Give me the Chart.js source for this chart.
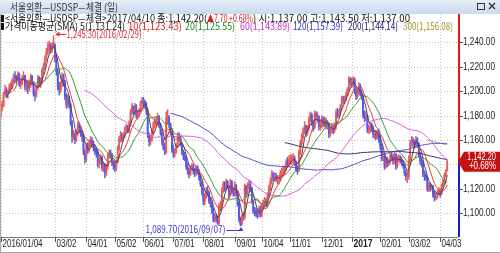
<!DOCTYPE html>
<html>
<head>
<meta charset="utf-8">
<script src="https://cdn.jsdelivr.net/npm/chart.js@4"></script>
<style>
  html, body { margin: 0; padding: 0; background: #fff; }
  #wrap { width: 500px; height: 253px; }
</style>
</head>
<body>
<div id="wrap"><canvas id="c" width="500" height="253"></canvas></div>
<script>
// daily USD/KRW closes, 2016/01/04 .. 2017/04/10
const closes = [
  1188,1188,1198,1201,1198,1200,1203,1203,1209,1212,1211,1210,1214,1206,1207,1211,1213,1204,1205,1203,
  1206,1212,1207,1198,1197,1203,1211,1207,1208,1217,1220,1227,1232,1236,1238,1234,1237,1238,
  1227,1216,1204,1201,1206,1213,1208,1196,1189,1194,1189,1174,1163,1165,1160,1166,1172,1170,1166,1163,1151,1144,
  1155,1152,1158,1160,1157,1154,1151,1150,1141,1143,1146,1137,1140,1133,1138,1147,1150,1148,1141,1140,
  1137,1142,1153,1161,1164,1161,1164,1169,1170,1168,1174,1183,1187,1183,1188,1180,1181,1184,1190,1192,
  1191,1189,1184,1165,1159,1161,1167,1173,1175,1176,1179,1172,1166,1159,1154,1150,1178,1179,1173,1166,1152,
  1149,1150,1155,1163,1162,1157,1150,1147,1146,1138,1135,1132,1137,1138,1135,1133,1137,1134,1129,1124,1118,
  1110,1114,1119,1117,1110,1108,1102,1095,1097,1096,1092,1106,1106,1119,1124,1120,1126,1122,1115,1126,1118,1117,
  1123,1116,1108,1095,1091,1096,1097,1122,1116,1123,1124,1121,1110,1102,1101,1100,1099,1104,1099,
  1106,1109,1110,1108,1115,1121,1126,1132,1129,1130,1128,1128,1128,1133,1134,1135,1136,1142,1141,1144,
  1144,1145,1145,1142,1136,1135,1150,1157,1163,1168,1171,1166,1170,1177,1181,1174,1170,1181,1179,1179,1171,1173,
  1177,1173,1176,1172,1173,1165,1169,1170,1168,1171,1182,1181,1183,1187,1194,1193,1194,1197,1201,1210,1208,
  1208,1210,1200,1196,1199,1204,1198,1196,1180,1179,1180,1168,1169,1171,1170,1165,1165,1163,1166,1162,
  1155,1145,1146,1138,1144,1140,1142,1147,1146,1143,1148,1139,1145,1145,1144,1141,1139,1133,1130,1130,
  1145,1158,1160,1158,1156,1161,1157,1148,1143,1141,1132,1131,1129,1120,1123,1121,1122,1115,1113,1114,1117,1118.4,
  1116,1122.5,1126,1131,1134.5,1142.2
];
const highs = [
  1190,1192,1199,1205,1203,1201,1206,1207,1210,1214,1216,1213,1216,1215,1210,1213,1216,1213,1209,1208,
  1209,1214,1213,1208,1201,1205,1213,1212,1211,1219,1223,1229,1235,1240,1241,1239,1240,1245.3,
  1239,1229,1218,1207,1208,1215,1214,1209,1198,1197,1196,1190,1176,1168,1166,1168,1175,1174,1171,1168,1164,1152,
  1157,1158,1160,1163,1162,1159,1156,1153,1151,1146,1148,1147,1142,1141,1140,1149,1152,1152,1149,1143,
  1143,1144,1155,1163,1167,1166,1166,1171,1173,1172,1176,1185,1190,1188,1190,1189,1184,1186,1192,1195,
  1195,1193,1191,1186,1166,1164,1169,1175,1178,1179,1182,1180,1174,1168,1161,1157,1183,1185,1180,1174,1167,
  1156,1153,1157,1166,1166,1163,1158,1152,1150,1147,1141,1137,1139,1141,1140,1137,1139,1139,1136,1131,1126,
  1120,1116,1121,1122,1118,1113,1110,1104,1100,1099,1098,1108,1110,1121,1126,1126,1128,1127,1123,1128,1127,1121,
  1126,1124,1118,1109,1097,1099,1101,1124,1123,1125,1127,1126,1121,1111,1105,1104,1103,1106,1106,
  1108,1111,1113,1112,1117,1123,1129,1135,1134,1133,1133,1131,1131,1135,1137,1138,1139,1144,1146,1147,
  1148,1148,1149,1147,1143,1139,1152,1160,1165,1170,1175,1172,1172,1179,1183,1182,1176,1184,1183,1183,1180,1176,
  1180,1179,1179,1178,1176,1174,1171,1173,1172,1174,1185,1186,1185,1189,1196,1196,1196,1199,1203,1212,1211,
  1211,1212,1211,1203,1202,1207,1206,1201,1197,1184,1183,1180,1172,1174,1174,1172,1168,1168,1168,1169,
  1164,1157,1150,1148,1146,1146,1144,1149,1150,1148,1150,1149,1147,1148,1147,1146,1143,1140,1135,1134,
  1147,1160,1163,1162,1160,1163,1162,1158,1150,1146,1143,1135,1133,1130,1125,1125,1124,1123,1118,1117,1119,1121,
  1120,1124,1128,1133,1136,1143.5
];
const lows = [
  1178,1184,1187,1196,1195,1194,1198,1199,1202,1207,1208,1206,1208,1204,1202,1205,1209,1201,1200,1198,
  1200,1203,1205,1196,1192,1195,1201,1204,1203,1206,1214,1218,1225,1230,1233,1231,1232,1235,
  1224,1213,1201,1197,1199,1204,1204,1193,1186,1187,1186,1172,1158,1160,1157,1159,1164,1166,1163,1159,1148,1141,
  1142,1149,1150,1155,1154,1151,1148,1146,1138,1137,1140,1135,1134,1129,1131,1136,1145,1145,1139,1136,
  1134,1135,1141,1151,1158,1159,1159,1162,1166,1166,1166,1172,1181,1181,1182,1178,1177,1179,1183,1188,
  1187,1186,1181,1162,1155,1156,1159,1164,1170,1171,1173,1170,1164,1156,1152,1148,1149,1173,1170,1164,1150,
  1146,1146,1149,1154,1159,1155,1148,1144,1143,1136,1132,1129,1131,1135,1132,1130,1131,1132,1127,1122,1115,
  1107,1107,1112,1114,1108,1105,1100,1093,1093,1093,1091,1090,1102,1104,1117,1118,1119,1120,1112,1114,1116,1114,
  1114,1114,1106,1093,1089.7,1090,1094,1095,1113,1115,1120,1118,1108,1100,1098,1097,1096,1097,1097,
  1097,1103,1106,1105,1106,1113,1119,1124,1127,1127,1126,1124,1124,1126,1130,1131,1132,1135,1138,1139,
  1140,1140,1141,1139,1134,1132,1134,1148,1155,1161,1165,1163,1164,1168,1175,1172,1167,1169,1176,1175,1168,1168,
  1170,1171,1171,1169,1169,1162,1163,1166,1165,1166,1169,1178,1179,1180,1185,1190,1190,1192,1196,1200,1205,
  1203,1204,1198,1193,1194,1197,1196,1193,1178,1175,1176,1166,1165,1166,1167,1162,1161,1160,1161,1158,
  1152,1143,1143,1136,1137,1138,1139,1141,1143,1140,1141,1136,1137,1142,1141,1139,1137,1131,1127,1125,
  1128,1143,1155,1155,1153,1154,1154,1146,1140,1138,1130,1127,1127,1118,1118,1118,1119,1113,1110,1111,1112,1115,
  1113,1115,1120,1124,1130,1137
];
const firstOpen = 1180;

const maPeriods = [5, 10, 20, 60, 120, 200, 300];
const maColors = ['#4a4a4a', '#e43c3c', '#2f9e2f', '#e452e4', '#4848cc', '#2a2a6e', '#b4a448'];

const tickIdx = [0, 38, 60, 80, 100, 121, 142, 164, 183, 203, 225, 246, 266, 286, 308];
const tickText = ['2016/01/04', '03/02', '04/01', '05/02', '06/01', '07/01', '08/01', '09/01',
  '10/04', '11/01', '12/01', '2017', '02/01', '03/02', '04/03'];
const yTicks = [1100, 1120, 1140, 1160, 1180, 1200, 1220, 1240];
const slotCount = 321;

// candles
const opens = closes.map((c, i) => (i === 0 ? firstOpen : closes[i - 1]));
const upColor = '#ea5a5a', downColor = '#5858e6';
const candleColors = closes.map((c, i) => (c >= opens[i] ? upColor : downColor));

function sma(n) {
  return closes.map((c, i) => {
    if (i < n - 1) return null;
    let s = 0;
    for (let k = i - n + 1; k <= i; k++) s += closes[k];
    return s / n;
  });
}

function txt(ctx, s, x, y, color, opt) {
  opt = opt || {};
  ctx.save();
  ctx.font = opt.font || '10px "Liberation Sans"';
  ctx.fillStyle = color;
  ctx.textBaseline = 'middle';
  const nat = ctx.measureText(s).width;
  const sx = opt.width ? opt.width / nat : (opt.sx || 0.82);
  const w = nat * sx;
  const x0 = opt.align === 'right' ? x - w : x;
  ctx.translate(x0, y);
  ctx.scale(sx, 1);
  ctx.fillText(s, 0, 0);
  ctx.restore();
  return w;
}

const gridPlugin = {
  id: 'grid',
  beforeDatasetsDraw(chart) {
    const { ctx, chartArea: ca, scales: { x, y } } = chart;
    ctx.save();
    ctx.strokeStyle = '#c4c4c4';
    ctx.lineWidth = 1;
    ctx.setLineDash([1, 2]);
    yTicks.forEach(v => {
      const py = Math.round(y.getPixelForValue(v)) + 0.5;
      ctx.beginPath(); ctx.moveTo(ca.left, py); ctx.lineTo(ca.right, py); ctx.stroke();
    });
    tickIdx.forEach(i => {
      const px = Math.round(x.getPixelForValue(i)) + 0.5;
      ctx.beginPath(); ctx.moveTo(px, ca.top); ctx.lineTo(px, ca.bottom); ctx.stroke();
    });
    ctx.restore();
  }
};

const overlayPlugin = {
  id: 'overlay',
  afterDraw(chart) {
    const { ctx, chartArea: ca, scales: { x, y } } = chart;
    const K = '"Noto Sans CJK KR"';
    ctx.save();

    // window title bar
    const g = ctx.createLinearGradient(0, 0, 0, 14);
    g.addColorStop(0, '#e6eef9');
    g.addColorStop(1, '#c9d9ef');
    ctx.fillStyle = g;
    ctx.fillRect(0, 0, 500, 14);
    txt(ctx, '서울외환—USDSP—체결 (일)', 10, 7, '#333', { font: '10px ' + K, width: 108 });
    ctx.strokeStyle = '#333';
    ctx.lineWidth = 1;
    ctx.strokeRect(477.5, 3.5, 7, 6);
    ctx.beginPath();
    ctx.moveTo(489, 3); ctx.lineTo(495, 9); ctx.moveTo(495, 3); ctx.lineTo(489, 9);
    ctx.lineWidth = 1.4; ctx.stroke();

    // legend line 1
    const f = '10px ' + K;
    ctx.fillStyle = '#111';
    ctx.fillRect(1, 15, 3, 7);
    ctx.fillRect(1, 23, 3, 7);
    txt(ctx, '<서울외환—USDSP—체결>', 5, 18.5, '#111', { font: f, width: 102 });
    txt(ctx, '2017/04/10 종:1,142.20(', 107, 18.5, '#111', { font: f, width: 100 });
    txt(ctx, '▲7.70 +0.68%', 207, 18.5, '#d42020', { font: f, width: 46 });
    txt(ctx, ') 시:1,137.00 고:1,143.50 저:1,137.00', 253, 18.5, '#111', { font: f, width: 157 });

    // legend line 2
    const maTexts = ['5(1,131.24)', '10(1,123.43)', '20(1,125.55)', '60(1,143.89)',
      '120(1,157.39)', '200(1,144.14)', '300(1,156.08)'];
    const maX = [80, 128, 185, 240, 293, 348, 403];
    const maW = [45, 54, 50, 50, 50, 50, 50];
    const maText = ['#222', '#d42020', '#208a20', '#c828c8', '#2a2ac0', '#20206a', '#a49028'];
    txt(ctx, '가격이동평균(SMA)', 5, 26, '#111', { font: f, width: 73 });
    maTexts.forEach((s, k) => txt(ctx, s, maX[k], 26, maText[k], { font: f, width: maW[k] }));

    // high / low annotations
    const hx = x.getPixelForValue(37), hy = y.getPixelForValue(1245.3);
    ctx.strokeStyle = '#e02a2a'; ctx.fillStyle = '#e02a2a'; ctx.lineWidth = 1;
    ctx.beginPath(); ctx.moveTo(hx + 3, hy - 1.5); ctx.lineTo(hx + 13, hy - 1.5); ctx.stroke();
    ctx.beginPath(); ctx.moveTo(hx + 2, hy - 1.5); ctx.lineTo(hx + 6, hy - 4); ctx.lineTo(hx + 6, hy + 1); ctx.fill();
    txt(ctx, '1,245.30(2016/02/29)', hx + 13, hy - 1.5, '#e02a2a', { font: f, width: 75 });

    const lx = x.getPixelForValue(168), ly = y.getPixelForValue(1089.7);
    ctx.strokeStyle = '#3a3ad0'; ctx.fillStyle = '#3a3ad0';
    ctx.beginPath(); ctx.moveTo(lx - 14, 230.5); ctx.lineTo(lx + 0.5, 230.5); ctx.lineTo(lx + 0.5, ly + 3); ctx.stroke();
    ctx.beginPath(); ctx.moveTo(lx + 0.5, ly + 1); ctx.lineTo(lx - 2, ly + 5); ctx.lineTo(lx + 3, ly + 5); ctx.fill();
    txt(ctx, '1,089.70(2016/09/07)', lx - 95, 229.5, '#3a3ad0', { font: f, width: 80 });

    // right axis
    const ax = ca.right;
    const py = y.getPixelForValue(closes[closes.length - 1]);
    ctx.fillStyle = '#e01818';
    ctx.fillRect(ax, ca.top, 2, py - ca.top);
    ctx.fillStyle = '#1c1cc8';
    ctx.fillRect(ax, py, 2, ca.bottom - py);
    yTicks.forEach(v => {
      const ty = Math.round(y.getPixelForValue(v)) + 0.5;
      ctx.strokeStyle = '#555';
      ctx.beginPath(); ctx.moveTo(ax + 2, ty); ctx.lineTo(ax + 5, ty); ctx.stroke();
      txt(ctx, v.toLocaleString('en-US', { minimumFractionDigits: 2 }), ax + 5, ty, '#222',
        { font: '10px "Liberation Sans"', width: 32 });
    });

    // last price box
    ctx.fillStyle = '#c41212';
    ctx.beginPath();
    ctx.moveTo(ax, py); ctx.lineTo(ax + 6, py - 10); ctx.lineTo(500, py - 10);
    ctx.lineTo(500, py + 10); ctx.lineTo(ax + 6, py + 10); ctx.closePath(); ctx.fill();
    txt(ctx, '1,142.20', 496, py - 5, '#fff', { font: '10px "Liberation Sans"', width: 29, align: 'right' });
    txt(ctx, '+0.68%', 496, py + 4.5, '#fff', { font: '10px "Liberation Sans"', width: 27, align: 'right' });

    // bottom axis
    ctx.strokeStyle = '#777';
    ctx.beginPath(); ctx.moveTo(0, ca.bottom + 0.5); ctx.lineTo(ax, ca.bottom + 0.5); ctx.stroke();
    ctx.strokeStyle = '#aaa';
    ctx.beginPath(); ctx.moveTo(0.5, ca.top); ctx.lineTo(0.5, 253); ctx.stroke();
    ctx.beginPath(); ctx.moveTo(0, 252.5); ctx.lineTo(500, 252.5); ctx.stroke();
    tickIdx.forEach((i, k) => {
      const tx = Math.round(x.getPixelForValue(i)) + 0.5;
      ctx.strokeStyle = '#555';
      ctx.beginPath(); ctx.moveTo(tx, ca.bottom + 1); ctx.lineTo(tx, ca.bottom + 5); ctx.stroke();
      const bold = tickText[k] === '2017';
      txt(ctx, tickText[k], tx + 1, 244, '#222',
        { font: (bold ? 'bold ' : '') + '10px "Liberation Sans"', sx: bold ? 0.85 : 0.8 });
    });
    ctx.restore();
  }
};

const datasets = [
  {
    type: 'bar',
    data: lows.map((l, i) => [l, highs[i]]),
    backgroundColor: candleColors,
    barThickness: 0.8,
    grouped: false,
    order: 20
  },
  {
    type: 'bar',
    data: opens.map((o, i) => [o, closes[i]]),
    backgroundColor: candleColors,
    barThickness: 1.2,
    minBarLength: 1,
    grouped: false,
    order: 19
  }
];
maPeriods.forEach((n, k) => {
  datasets.push({
    type: 'line',
    data: sma(n),
    borderColor: maColors[k],
    borderWidth: 1,
    pointRadius: 0,
    tension: 0,
    order: k + 1
  });
});

new Chart(document.getElementById('c'), {
  data: {
    labels: Array.from({ length: slotCount }, (_, i) => i),
    datasets: datasets
  },
  options: {
    responsive: false,
    animation: false,
    events: [],
    layout: { padding: { left: 0, right: 42, top: 14, bottom: 16 } },
    plugins: { legend: { display: false }, tooltip: { enabled: false } },
    scales: {
      x: { type: 'category', display: false, offset: true },
      y: { display: false, min: 1080.6, max: 1263.2 }
    }
  },
  plugins: [gridPlugin, overlayPlugin]
});
</script>
</body>
</html>
